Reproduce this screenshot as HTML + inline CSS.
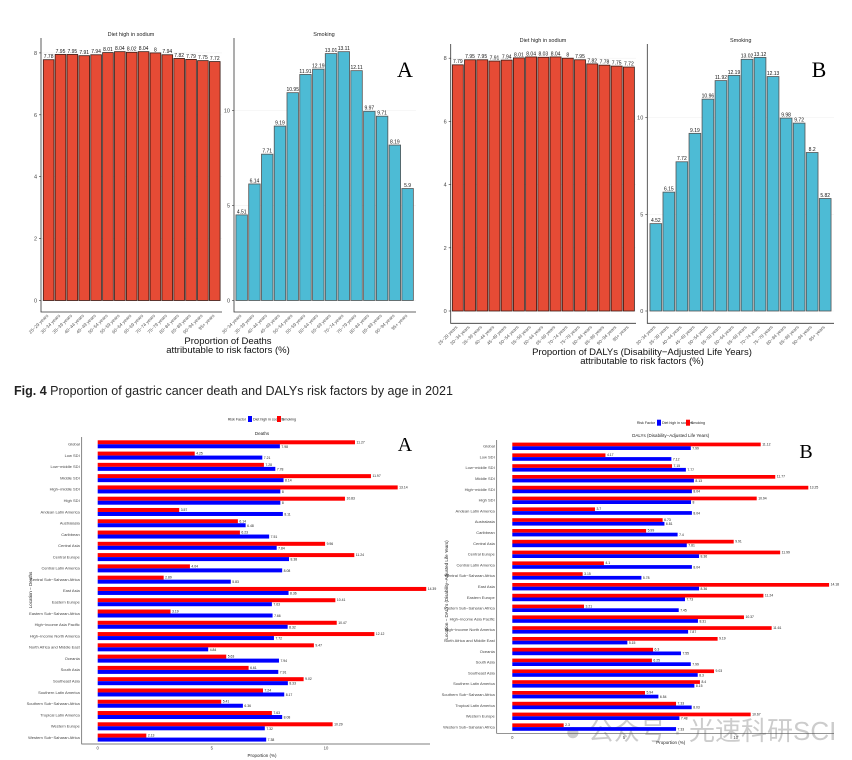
<!DOCTYPE html>
<html><head><meta charset="utf-8"><style>
html,body{margin:0;padding:0;background:#fff;}
svg{display:block;font-family:"Liberation Sans",sans-serif;}
</style></head><body>
<svg id="fig" width="852" height="760" viewBox="0 0 852 760" xmlns="http://www.w3.org/2000/svg">
<rect width="852" height="760" fill="#fff"/>
<text x="14" y="395" font-size="12.5" fill="#222"><tspan font-weight="bold">Fig. 4</tspan>  Proportion of gastric cancer death and DALYs risk factors by age in 2021</text>
<text x="228" y="344" font-size="9.5" text-anchor="middle" fill="#111">Proportion of Deaths</text>
<text x="228" y="353" font-size="9.5" text-anchor="middle" fill="#111">attributable to risk factors (%)</text>
<text x="642" y="355" font-size="9.5" text-anchor="middle" fill="#111">Proportion of DALYs (Disability−Adjusted Life Years)</text>
<text x="642" y="364" font-size="9.5" text-anchor="middle" fill="#111">attributable to risk factors (%)</text>
<text x="405" y="77" font-size="22" font-family="Liberation Serif,serif" text-anchor="middle">A</text>
<text x="819" y="77" font-size="22" font-family="Liberation Serif,serif" text-anchor="middle">B</text>
<text x="405" y="451" font-size="20" font-family="Liberation Serif,serif" text-anchor="middle">A</text>
<text x="806" y="458" font-size="20" font-family="Liberation Serif,serif" text-anchor="middle">B</text>
<text x="565" y="740" font-size="26" fill="#bbb" fill-opacity="0.75" font-family="Liberation Sans,'Noto Sans CJK SC',sans-serif">● 公众号 · 光速科研SCI</text>
</svg>
<script>
const agesA = ["25−29 years","30−34 years","35−39 years","40−44 years","45−49 years","50−54 years","55−59 years","60−64 years","65−69 years","70−74 years","75−79 years","80−84 years","85−89 years","90−94 years","95+ years"];
const agesS = ["30−34 years","35−39 years","40−44 years","45−49 years","50−54 years","55−59 years","60−64 years","65−69 years","70−74 years","75−79 years","80−84 years","85−89 years","90−94 years","95+ years"];
const sodiumDeaths = [7.78,7.95,7.95,7.91,7.94,8.01,8.04,8.02,8.04,8,7.94,7.82,7.79,7.75,7.72];
const smokingDeaths = [4.51,6.14,7.71,9.19,10.95,11.91,12.19,13.01,13.11,12.11,9.97,9.71,8.19,5.9];
const sodiumDalys = [7.79,7.95,7.95,7.91,7.94,8.01,8.04,8.03,8.04,8,7.95,7.82,7.78,7.75,7.72];
const smokingDalys = [4.52,6.15,7.72,9.19,10.96,11.92,12.19,13.02,13.12,12.13,9.98,9.72,8.2,5.82];
const sodiumTicks = [0,2,4,6,8];
const smokingTicks = [0,5,10];
const locations = ["Global","Low SDI","Low−middle SDI","Middle SDI","High−middle SDI","High SDI","Andean Latin America","Australasia","Caribbean","Central Asia","Central Europe","Central Latin America","Central Sub−Saharan Africa","East Asia","Eastern Europe","Eastern Sub−Saharan Africa","High−income Asia Pacific","High−income North America","North Africa and Middle East","Oceania","South Asia","Southeast Asia","Southern Latin America","Southern Sub−Saharan Africa","Tropical Latin America","Western Europe","Western Sub−Saharan Africa"];
const locSmokingDeaths = [11.27,4.25,7.28,11.97,13.14,10.83,3.57,6.14,6.23,9.96,11.24,4.04,2.89,14.39,10.41,3.19,10.47,12.12,9.47,5.63,6.61,9.02,7.24,5.41,7.63,10.29,2.13];
const locSodiumDeaths = [7.98,7.21,7.78,8.14,8.0,8.0,8.11,6.48,7.51,7.84,8.38,8.08,5.83,8.36,7.63,7.66,8.32,7.72,4.84,7.94,7.91,8.33,8.17,6.36,8.08,7.32,7.38];
const locSmokingDalys = [11.12,4.17,7.15,11.77,13.25,10.94,3.7,6.73,5.99,9.91,11.99,4.1,3.15,14.18,11.24,3.21,10.37,11.61,9.19,6.3,6.25,9.03,8.4,5.94,7.33,10.67,2.3];
const locSodiumDalys = [7.99,7.12,7.77,8.13,8.04,8.0,8.04,6.81,7.4,7.81,8.36,8.04,5.78,8.36,7.73,7.45,8.31,7.87,5.15,7.55,7.99,8.3,8.15,6.54,8.03,7.48,7.33];
const tickX = [0,5,10];

const NS="http://www.w3.org/2000/svg";
const svg=document.getElementById('fig');
function mk(tag,attrs){const e=document.createElementNS(NS,tag);for(const k in attrs)e.setAttribute(k,attrs[k]);svg.appendChild(e);return e;}
function fmt(v){return String(Math.round(v*100)/100);}

function vPanel(o){
  const y=v=>o.zeroY-v*o.ppu;
  // grid
  o.ticks.forEach(t=>{const g=mk('line',{x1:o.axisX,x2:o.right,y1:y(t),y2:y(t),stroke:'#f2f2f2','stroke-width':0.6});
    
    });
  const slot=(o.barR-o.barL)/o.vals.length;
  o.vals.forEach((v,i)=>{
    const x=o.barL+i*slot+slot*0.05,w=slot*0.9;
    const r=mk('rect',{x:x,y:y(v),width:w,height:v*o.ppu,fill:o.color,stroke:o.stroke,'stroke-width':0.8});
    
    
    const t=mk('text',{x:x+w/2,y:y(v)-1.6,'font-size':5,'text-anchor':'middle',fill:'#111'});
    t.textContent=fmt(v);
    
    
    const cx=x+w/2,ly=o.bottom+4;
    const l=mk('text',{x:cx,y:ly,'font-size':4.6,'text-anchor':'end',fill:'#555',transform:`rotate(-45 ${cx} ${ly})`});
    l.textContent=o.labels[i];
    
    
  });
  o.ticks.forEach(t=>{
    const tl=mk('text',{x:o.axisX-4,y:y(t)+2,'font-size':5.5,'text-anchor':'end',fill:'#444'});
    tl.textContent=t;
    
    
    const tk=mk('line',{x1:o.axisX-2,x2:o.axisX,y1:y(t),y2:y(t),stroke:'#333','stroke-width':0.6});
    
    
  });
  const ax=mk('path',{d:`M${o.axisX},${o.top}V${o.bottom}H${o.right}`,fill:'none',stroke:'#333','stroke-width':0.8});
  
  
  const ti=mk('text',{x:o.titleX,y:o.titleY,'font-size':5.5,'text-anchor':'middle',fill:'#222'});
  ti.textContent=o.title;
  
  
}

vPanel({key:'sodium-deaths',vals:sodiumDeaths,labels:agesA,ticks:sodiumTicks,axisX:41,zeroY:300.5,ppu:30.95,barL:42.7,barR:220.7,right:222,top:38,bottom:312,color:'#E64B35',stroke:'#3a1a14',title:'Diet high in sodium',titleX:131,titleY:36});
vPanel({key:'smoking-deaths',vals:smokingDeaths,labels:agesS,ticks:smokingTicks,axisX:234,zeroY:300.5,ppu:18.98,barL:235.3,barR:414,right:416,top:38,bottom:312,color:'#4DBBD5',stroke:'#555',title:'Smoking',titleX:324,titleY:36});
vPanel({key:'sodium-dalys',vals:sodiumDalys,labels:agesA,ticks:sodiumTicks,axisX:450.7,zeroY:311,ppu:31.6,barL:451.7,barR:635,right:636,top:44,bottom:323.3,color:'#E64B35',stroke:'#3a1a14',title:'Diet high in sodium',titleX:543,titleY:42});
vPanel({key:'smoking-dalys',vals:smokingDalys,labels:agesS,ticks:smokingTicks,axisX:647.3,zeroY:311,ppu:19.33,barL:649.3,barR:831.7,right:834,top:44,bottom:323.3,color:'#4DBBD5',stroke:'#555',title:'Smoking',titleX:740.7,titleY:42});

function hPanel(o){
  const x=v=>o.zeroX+v*o.ppu;
  locations.forEach((c,i)=>{
    const cy=o.firstY+i*o.step;
    const r=mk('rect',{x:x(0),y:cy-o.bh,width:o.red[i]*o.ppu,height:o.bh,fill:'#FF0000'});
    
    
    const b=mk('rect',{x:x(0),y:cy,width:o.blue[i]*o.ppu,height:o.bh,fill:'#0000FF'});
    
    
    const rl=mk('text',{x:x(o.red[i])+1.5,y:cy-1,'font-size':3.4,fill:'#222'});
    rl.textContent=fmt(o.red[i]);
    
    
    const bl=mk('text',{x:x(o.blue[i])+1.5,y:cy+o.bh-0.5,'font-size':3.4,fill:'#222'});
    bl.textContent=fmt(o.blue[i]);
    
    
    const cl=mk('text',{x:o.axisX-2,y:cy+1.3,'font-size':4,'text-anchor':'end',fill:'#444'});
    cl.textContent=c;
    
    
  });
  tickX.forEach(t=>{
    const tl=mk('text',{x:x(t),y:o.bottom+5.5,'font-size':4.2,'text-anchor':'middle',fill:'#444'});
    tl.textContent=t;
    
    
  });
  const ax=mk('path',{d:`M${o.axisX},${o.top}V${o.bottom}H${o.right}`,fill:'none',stroke:'#555','stroke-width':0.7});
  
  
  const ti=mk('text',{x:o.titleX,y:o.titleY,'font-size':4.5,'text-anchor':'middle',fill:'#222'});
  ti.textContent=o.title;
  
  
  const xt=mk('text',{x:o.titleX,y:o.xtY,'font-size':4.5,'text-anchor':'middle',fill:'#222'});
  xt.textContent='Proportion (%)';
  
  
  const yt=mk('text',{x:o.ytX,y:o.ytY,'font-size':4.5,'text-anchor':'middle',fill:'#222',transform:`rotate(-90 ${o.ytX} ${o.ytY})`});
  yt.textContent=o.ytitle;
  
  
  // legend
  const lg=o.legX;
  const l1=mk('text',{x:lg,y:o.legY+1.5,'font-size':3.6,'text-anchor':'end',fill:'#222'});
  l1.textContent='Risk Factor';
  
  
  const s1=mk('rect',{x:lg+2,y:o.legY-3,width:4,height:6,fill:'#0000FF'});
  
  
  const t1=mk('text',{x:lg+7,y:o.legY+1.5,'font-size':3.6,fill:'#222'});
  t1.textContent='Diet high in sodium';
  
  
  const s2=mk('rect',{x:lg+31,y:o.legY-3,width:4,height:6,fill:'#FF0000'});
  
  
  const t2=mk('text',{x:lg+36,y:o.legY+1.5,'font-size':3.6,fill:'#222'});
  t2.textContent='Smoking';
  
  
}

hPanel({key:'deaths',red:locSmokingDeaths,blue:locSodiumDeaths,axisX:81.7,zeroX:97.7,ppu:22.83,firstY:444.3,step:11.28,bh:4,top:437,bottom:744,right:430,title:'Deaths',titleX:262,titleY:435,xtY:757,ytX:32,ytY:590,ytitle:'Location − Deaths',legX:246,legY:419});
hPanel({key:'dalys',red:locSmokingDalys,blue:locSodiumDalys,axisX:496.7,zeroX:512.3,ppu:22.34,firstY:446.3,step:10.8,bh:3.7,top:440,bottom:733.3,right:834,title:'DALYs (Disability−Adjusted Life Years)',titleX:670.7,titleY:437,xtY:744,ytX:448,ytY:590,ytitle:'Location − DALYs (Disability−Adjusted Life Years)',legX:655,legY:422.7});
</script>
</body></html>
